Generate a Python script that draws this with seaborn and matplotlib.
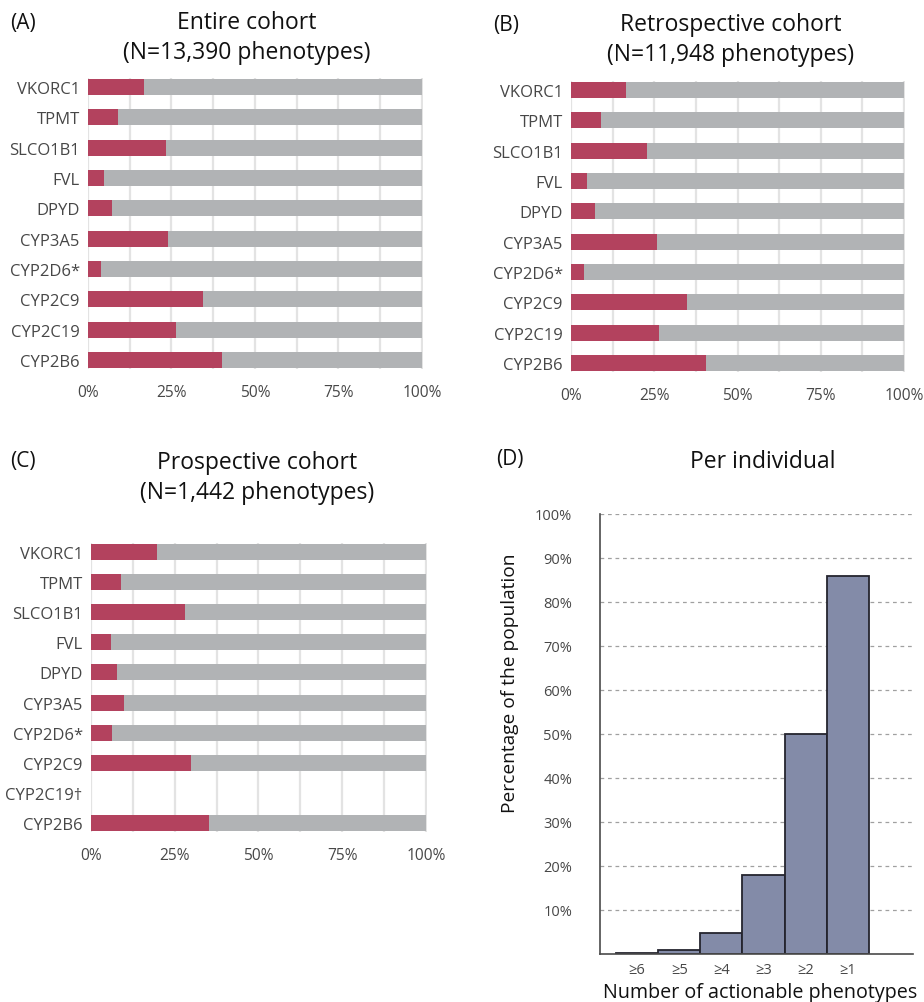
import numpy as np
import pandas as pd
import matplotlib
matplotlib.use("Agg")
import matplotlib.pyplot as plt
from matplotlib.ticker import FixedLocator
import seaborn as sns

# ---- data -------------------------------------------------------------
genes = ["VKORC1", "TPMT", "SLCO1B1", "FVL", "DPYD",
         "CYP3A5", "CYP2D6*", "CYP2C9", "CYP2C19", "CYP2B6"]
genes_prospective = ["VKORC1", "TPMT", "SLCO1B1", "FVL", "DPYD",
                     "CYP3A5", "CYP2D6*", "CYP2C9", "CYP2C19†", "CYP2B6"]

# share of actionable phenotypes per gene (%)
entire_cohort = [16.7, 8.9, 23.3, 4.7, 7.1, 23.9, 3.8, 34.3, 26.2, 40.0]
retrospective_cohort = [16.4, 8.9, 22.9, 4.8, 7.1, 25.9, 3.9, 34.8, 26.5, 40.5]
prospective_cohort = [19.6, 8.9, 28.0, 6.0, 7.7, 9.8, 6.2, 29.8, np.nan, 35.1]

# share of individuals carrying at least n actionable phenotypes (%)
n_actionable = ["≥6", "≥5", "≥4", "≥3", "≥2", "≥1"]
per_individual = [0.2, 0.8, 4.7, 18.0, 50.0, 85.9]

panel_titles = [
    ("(A)", "Entire cohort\n(N=13,390 phenotypes)"),
    ("(B)", "Retrospective cohort\n(N=11,948 phenotypes)"),
    ("(C)", "Prospective cohort\n(N=1,442 phenotypes)"),
    ("(D)", "Per individual"),
]

# ---- style ------------------------------------------------------------
RED = "#B3425E"
GREY = "#B1B3B5"
SLATE = "#838BA8"
GRID = "#E3E3E3"
TICK = "#474747"

sns.set_theme(style="white")
plt.rcParams["font.family"] = ["Open Sans", "DejaVu Sans"]

W, H = 924, 1003
fig = plt.figure(figsize=(W / 100, H / 100), dpi=100)


def px_axes(x0, y0, x1, y1):
    """Add axes from pixel box (left, top, right, bottom)."""
    return fig.add_axes([x0 / W, 1 - y1 / H, (x1 - x0) / W, (y1 - y0) / H])


def px_text(x, y, s, **kw):
    fig.text(x / W, 1 - y / H, s, **kw)


def cohort_panel(ax, labels, values):
    df = pd.DataFrame({"gene": labels, "actionable": values})
    df["total"] = np.where(df["actionable"].notna(), 100.0, np.nan)
    sns.barplot(data=df, y="gene", x="total", order=labels, orient="h",
                color=GREY, saturation=1, width=0.53, linewidth=0,
                errorbar=None, ax=ax)
    sns.barplot(data=df, y="gene", x="actionable", order=labels, orient="h",
                color=RED, saturation=1, width=0.53, linewidth=0,
                errorbar=None, ax=ax)
    ax.set_xlim(0, 100.3)
    ax.set_ylim(9.3, -0.3)
    ax.set_xticks([0, 25, 50, 75, 100])
    ax.set_xticklabels([f"{v}%" for v in [0, 25, 50, 75, 100]])
    ax.xaxis.set_minor_locator(FixedLocator([12.5, 37.5, 62.5, 87.5]))
    ax.grid(True, which="both", axis="x", color=GRID, lw=1.6)
    ax.grid(False, axis="y")
    ax.set_axisbelow(True)
    for sp in ax.spines.values():
        sp.set_visible(False)
    ax.tick_params(axis="both", which="both", length=0)
    ax.tick_params(axis="x", pad=11, labelsize=11.2, labelcolor=TICK)
    ax.tick_params(axis="y", pad=6, labelsize=12, labelcolor=TICK)
    ax.set_xlabel("")
    ax.set_ylabel("")


axA = px_axes(88, 79, 423, 370)
cohort_panel(axA, genes, entire_cohort)
axB = px_axes(571, 82, 905, 373)
cohort_panel(axB, genes, retrospective_cohort)
axC = px_axes(91, 544, 427, 833)
cohort_panel(axC, genes_prospective, prospective_cohort)

# ---- panel D ------------------------------------------------------------
axD = px_axes(600, 515, 913, 955)
dfD = pd.DataFrame({"n": n_actionable, "pct": per_individual})
sns.barplot(data=dfD, x="n", y="pct", order=n_actionable, color=SLATE,
            saturation=1, width=1.0, edgecolor="#24242E", linewidth=1.3,
            errorbar=None, ax=axD)
axD.set_xlim(-0.88, 6.55)
axD.set_ylim(0, 100)
axD.set_yticks(range(10, 101, 10))
axD.set_yticklabels([f"{v}%" for v in range(10, 101, 10)])
axD.yaxis.grid(True, linestyle=(0, (3, 3)), color="#A0A0A0", lw=0.9)
axD.xaxis.grid(False)
axD.set_axisbelow(True)
for side in ("top", "right"):
    axD.spines[side].set_visible(False)
for side in ("left", "bottom"):
    axD.spines[side].set_color("#4A4A4A")
    axD.spines[side].set_linewidth(1.2)
axD.tick_params(axis="both", length=0)
axD.tick_params(axis="y", pad=20, labelsize=10.5, labelcolor=TICK)
axD.tick_params(axis="x", pad=6, labelsize=10.5, labelcolor=TICK)
axD.set_xlabel("")
axD.set_ylabel("")
px_text(510, 683, "Percentage of the population", rotation=90,
        ha="center", va="center", fontsize=13.8, color="#111111")
px_text(603, 993, "Number of actionable phenotypes",
        ha="left", va="center", fontsize=14.2, color="#111111")

# ---- titles and panel letters ------------------------------------------
title_pos = [(247, 38), (731, 40), (257, 478), (763, 462)]
letter_pos = [(10, 24), (493, 26), (10, 462), (496, 460)]
for (letter, title), (tx, ty), (lx, ly) in zip(panel_titles, title_pos, letter_pos):
    px_text(tx, ty, title, ha="center", va="center", fontsize=16.5,
            linespacing=1.3, color="#111111")
    px_text(lx, ly, letter, ha="left", va="center", fontsize=15,
            color="#111111")

fig.savefig("out.png", dpi=100)
